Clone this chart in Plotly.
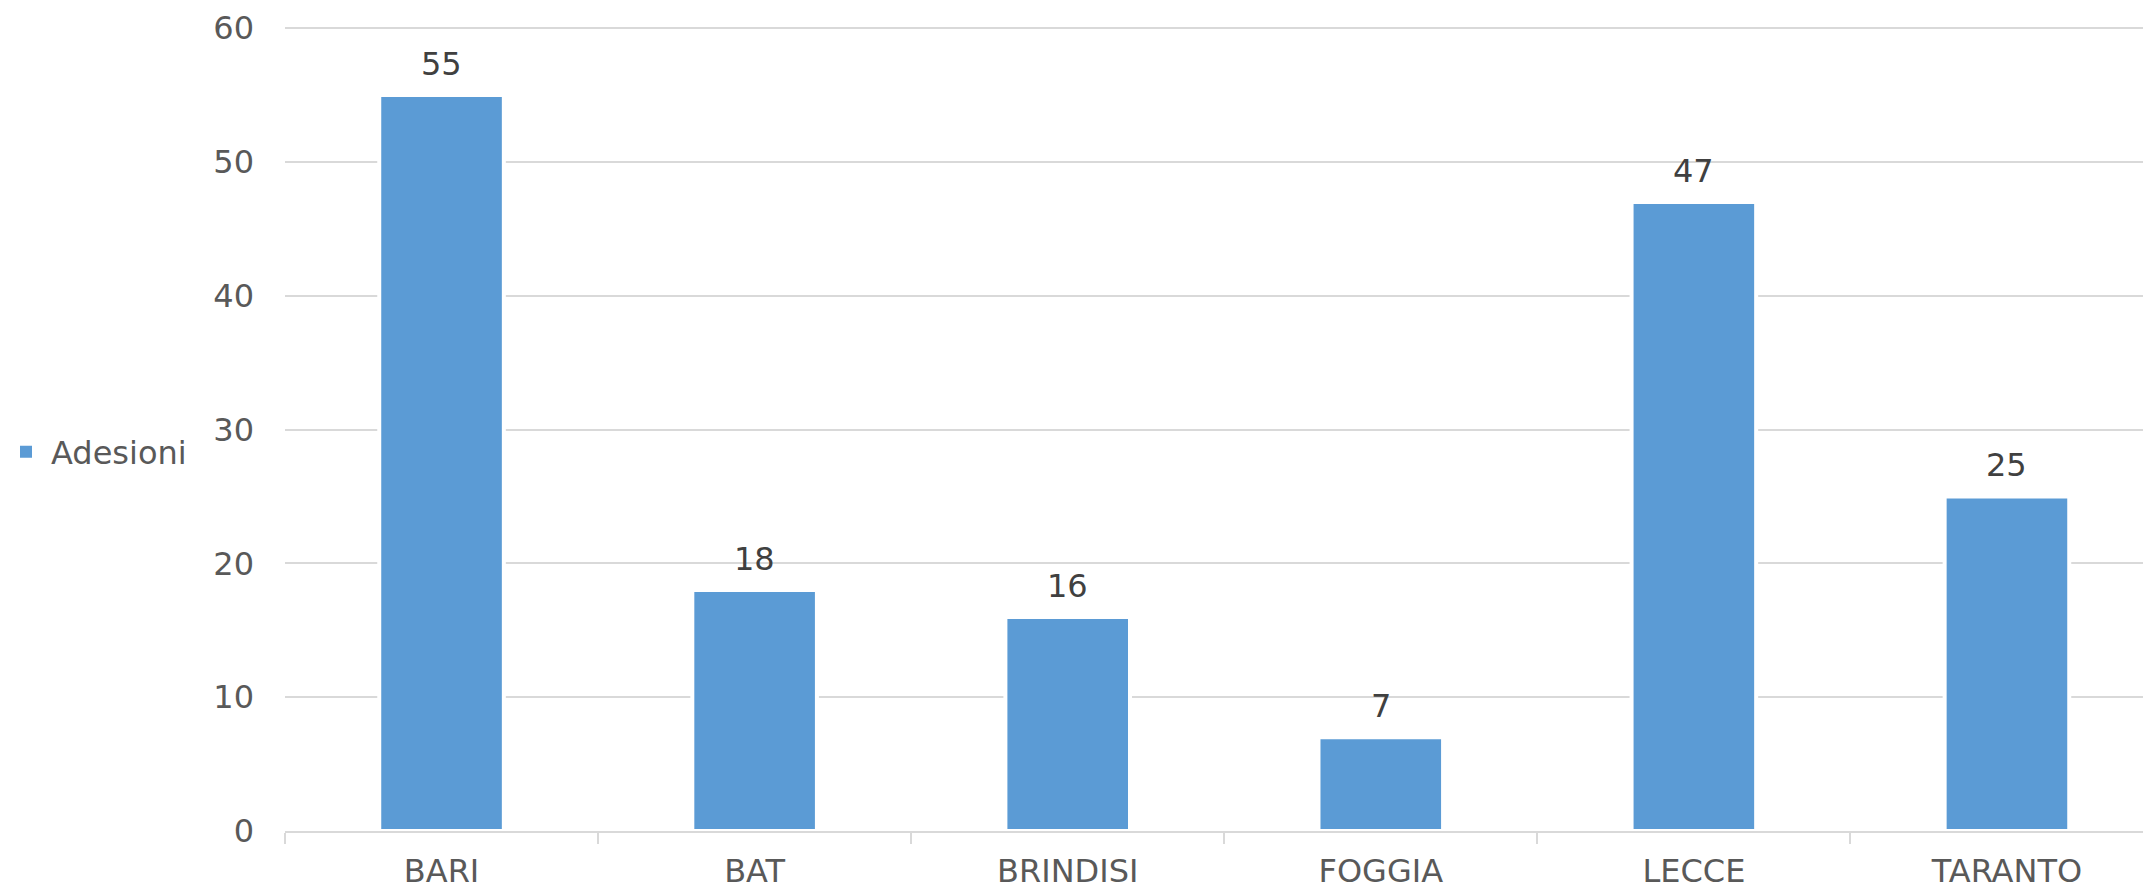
import plotly.graph_objects as go

categories = ["BARI", "BAT", "BRINDISI", "FOGGIA", "LECCE", "TARANTO"]
adesioni = [55, 18, 16, 7, 47, 25]
y_ticks = [0, 10, 20, 30, 40, 50, 60]
series_name = "Adesioni"

W, H = 2143, 889
L, T, B = 285, 27, 58
FONT = "DejaVu Sans, Verdana, sans-serif"
BAR_COLOR = "#5B9BD5"

fig = go.Figure()
fig.add_trace(go.Bar(
    x=categories,
    y=adesioni,
    name=series_name,
    width=0.398,
    marker=dict(color=BAR_COLOR, line=dict(color="#FFFFFF", width=4)),
    showlegend=False,
    legendgroup="a",
    hoverinfo="x+y",
))
# legend entry (same series, drawn without the white outline so the swatch stays solid)
fig.add_trace(go.Bar(
    x=[None], y=[None],
    name=series_name,
    marker=dict(color=BAR_COLOR, line=dict(width=0)),
    showlegend=True,
    legendgroup="a",
    hoverinfo="skip",
))

for c, v in zip(categories, adesioni):
    fig.add_annotation(
        x=c, y=v, text=str(v), showarrow=False,
        yanchor="bottom", yshift=10,
        font=dict(family=FONT, size=32, color="#404040"),
    )

plot_w = W - L
cat_px = 313.08
x_max = -0.5 + plot_w / cat_px

fig.update_layout(
    width=W, height=H,
    margin=dict(l=L, r=0, t=T, b=B, pad=0, autoexpand=False),
    paper_bgcolor="white", plot_bgcolor="white",
    font=dict(family=FONT, size=32, color="#595959"),
    showlegend=True,
    barmode="overlay",
    legend=dict(
        x=(1 - L) / plot_w, xanchor="left",
        y=(H - B - 452) / (H - B - T), yanchor="middle",
        itemwidth=40,
        font=dict(family=FONT, size=32, color="#595959"),
        bgcolor="rgba(0,0,0,0)",
    ),
)
fig.update_xaxes(
    type="category",
    range=[-0.5, x_max],
    showline=True, linecolor="#D9D9D9", linewidth=2,
    ticks="outside", tickson="boundaries", ticklen=11, tickwidth=2, tickcolor="#D9D9D9",
    ticklabelstandoff=11,
    showgrid=False, zeroline=False,
    tickfont=dict(family=FONT, size=32, color="#595959"),
    automargin=False,
    fixedrange=True,
)
fig.update_yaxes(
    range=[0, 60.08],
    tickvals=y_ticks,
    showgrid=True, gridcolor="#D9D9D9", gridwidth=2,
    zeroline=False, showline=False, ticks="",
    ticklabelstandoff=30,
    tickfont=dict(family=FONT, size=32, color="#595959"),
    automargin=False,
    fixedrange=True,
)

fig.write_html(
    "out.html",
    config={"displayModeBar": False, "staticPlot": False},
    post_script="document.body.style.margin='0';document.body.style.overflow='hidden';",
)
